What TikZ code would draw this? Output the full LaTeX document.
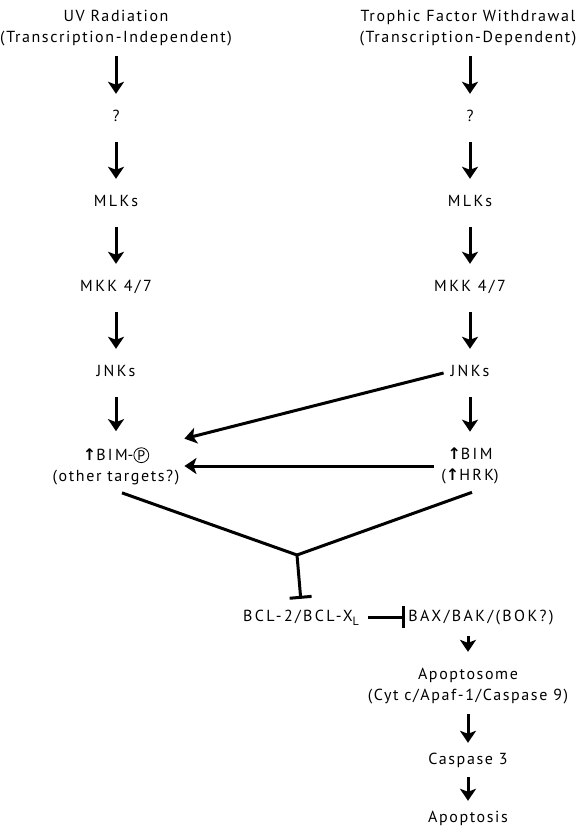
\documentclass[tikz,border=0pt]{standalone}
\usepackage{fontspec}
\usepackage{tikz}
\setmainfont{PT Sans}[LetterSpace=10]
\newfontfamily\symfont{DejaVu Sans}
\usetikzlibrary{arrows.meta}

\tikzset{
  lbl/.style={font=\fontsize{16}{21}\selectfont, align=center, inner xsep=3pt, inner ysep=8pt},
  one/.style={lbl, text height=11pt, text depth=3pt},
  caps/.style={one, font=\fontsize{16}{21}\selectfont\addfontfeatures{LetterSpace=15}},
  act/.style={line width=3pt, -{Stealth[length=12pt, width=16pt, inset=3pt]},
    shorten <=10pt, shorten >=8pt},
  inh/.style={line width=3pt, -{Bar[width=22pt, line width=3pt]}},
}
\newcommand{\upar}{{\symfont\bfseries ↑}}
\newcommand{\wide}[1]{{\addfontfeatures{LetterSpace=15}#1}}
\newcommand{\phos}{\tikz[baseline=(p.base)]\node[draw, circle, line width=0.8pt, inner sep=0.8pt, font=\fontsize{14}{14}\selectfont] (p) {P};}

\begin{document}
\begin{tikzpicture}[x=1pt, y=-1pt]
    \useasboundingbox (0,0) rectangle (586,830);

    % Stimuli
    \node[lbl] (uv) at (116,28) {UV Radiation\\(Transcription-Independent)};
    \node[lbl] (tf) at (468,28) {Trophic Factor Withdrawal\\(Transcription-Dependent)};

    % Left branch (UV)
    \node[one]  (q1)   at (116,117) {?};
    \node[caps] (mlk1) at (116,202) {MLKs};
    \node[caps] (mkk1) at (116,287) {MKK 4/7};
    \node[caps] (jnk1) at (116,372) {JNKs};
    \node[lbl]  (bimp) at (116,466) {\upar\wide{BIM}-\phos\\(other targets?)};

    % Right branch (trophic factor)
    \node[one]  (q2)   at (470,117) {?};
    \node[caps] (mlk2) at (470,202) {MLKs};
    \node[caps] (mkk2) at (470,287) {MKK 4/7};
    \node[caps] (jnk2) at (470,372) {JNKs};
    \node[lbl]  (bim)  at (470,466) {\upar\wide{BIM}\\(\upar\wide{HRK})};

    \draw[act, shorten <=2pt] (uv.south -| q1) -- (q1);
    \draw[act] (q1) -- (mlk1);
    \draw[act] (mlk1) -- (mkk1);
    \draw[act] (mkk1) -- (jnk1);
    \draw[act] (jnk1) -- (bimp);

    \draw[act, shorten <=2pt] (tf.south -| q2) -- (q2);
    \draw[act] (q2) -- (mlk2);
    \draw[act] (mlk2) -- (mkk2);
    \draw[act] (mkk2) -- (jnk2);
    \draw[act] (jnk2) -- (bim);

    % Cross-talk to BIM-P
    \draw[act, shorten <=4pt, shorten >=2pt] (jnk2.west) -- (bimp.north east);
    \draw[act, shorten <=4pt, shorten >=2pt] (bim.west) -- (bimp.east);

    % Convergence on BCL-2
    \coordinate (junc) at (297,555);
    \node[caps] (bcl) at (301,617) {BCL-2/BCL-X\raisebox{-0.6ex}{\fontsize{12}{12}\selectfont L}};
    \node[caps] (bax) at (481,617) {BAX/BAK/(BOK?)};
    \draw[line width=3pt] ([xshift=6pt]bimp.south) -- (junc) -- ([xshift=2pt]bim.south);
    \draw[inh, shorten >=3pt] (junc) -- (bcl.north);
    \draw[inh, shorten <=6pt] (bcl.east) -- (bax.west);

    % Downstream
    \node[lbl] (apo)  at (468,686) {Apoptosome\\(Cyt c/Apaf-1/Caspase 9)};
    \node[one] (casp) at (468,760) {Caspase 3};
    \node[one] (apop) at (468,818) {Apoptosis};
    \draw[act, shorten <=4pt] (bax.south -| apo) -- (apo);
    \draw[act, shorten <=2pt, shorten >=2pt] (apo) -- (casp);
    \draw[act, shorten <=2pt, shorten >=2pt] (casp) -- (apop);
\end{tikzpicture}
\end{document}
